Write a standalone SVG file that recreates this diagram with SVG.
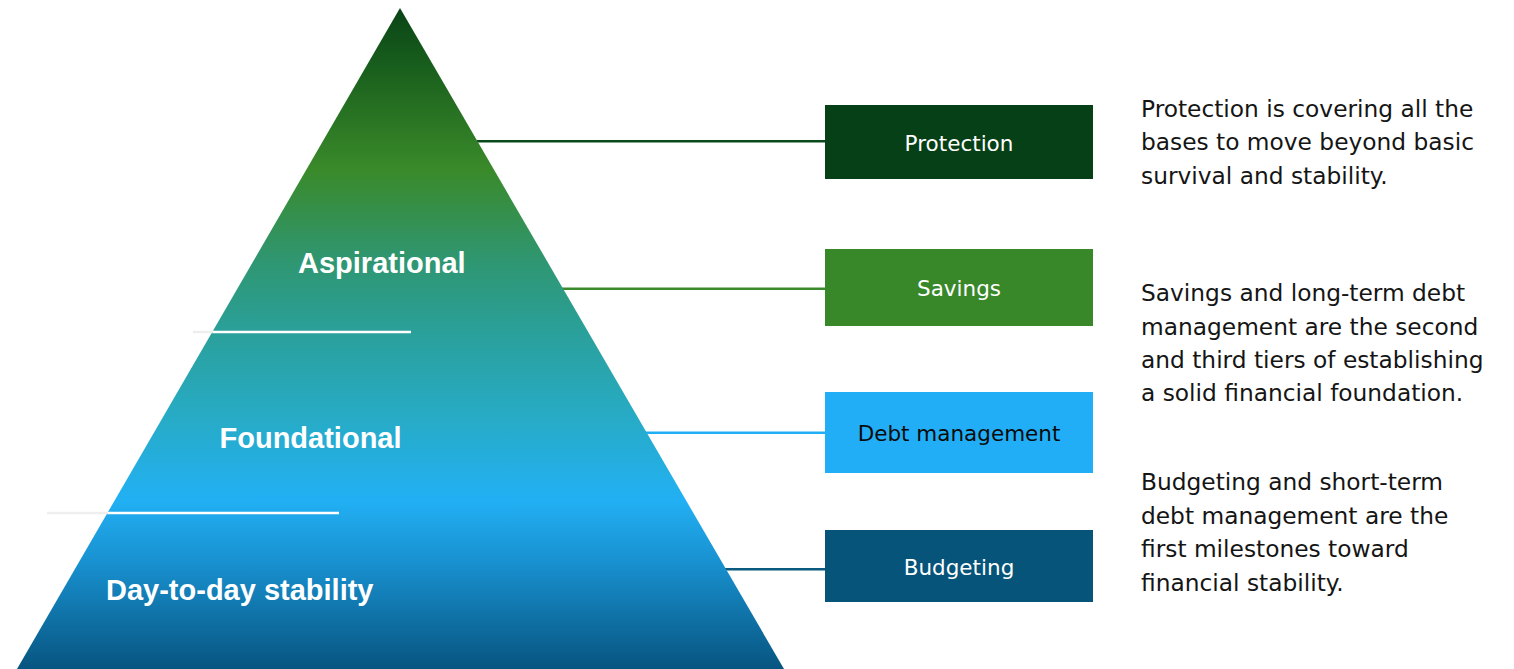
<svg xmlns="http://www.w3.org/2000/svg" width="1514" height="669" viewBox="0 0 1514 669">
  <style>
    .tier { font-family: "Liberation Sans", Arial, sans-serif; font-weight: bold; font-size: 29px; fill: #ffffff; }
    .box-label { font-family: "DejaVu Sans", "Liberation Sans", sans-serif; font-size: 21.5px; text-anchor: middle; }
    .desc { font-family: "DejaVu Sans", "Liberation Sans", sans-serif; font-size: 23.3px; fill: #151515; }
    .conn { stroke-width: 2.5; fill: none; }
    .divider { stroke-width: 2.5; }
  </style>
  <defs>
    <linearGradient id="pyramidFill" gradientUnits="userSpaceOnUse" x1="0" y1="8" x2="0" y2="669">
      <stop offset="0" stop-color="#0a4416"/>
      <stop offset="0.08" stop-color="#175c1c"/>
      <stop offset="0.245" stop-color="#3a8a2a"/>
      <stop offset="0.38" stop-color="#2f9670"/>
      <stop offset="0.49" stop-color="#2aa09a"/>
      <stop offset="0.62" stop-color="#27abc6"/>
      <stop offset="0.745" stop-color="#22b0f4"/>
      <stop offset="0.84" stop-color="#1890cf"/>
      <stop offset="1" stop-color="#075580"/>
    </linearGradient>
  </defs>

  <rect x="0" y="0" width="1514" height="669" fill="#ffffff"/>

  <!-- connectors from the pyramid edge to the boxes -->
  <g id="connectors">
    <line class="conn" x1="477" y1="141.3" x2="826" y2="141.3" stroke="#0a4a1a"/>
    <line class="conn" x1="562" y1="288.7" x2="826" y2="288.7" stroke="#3a8a2c"/>
    <line class="conn" x1="646" y1="432.7" x2="826" y2="432.7" stroke="#22aef5"/>
    <line class="conn" x1="725" y1="569.3" x2="826" y2="569.3" stroke="#0a5a80"/>
  </g>

  <!-- pyramid with tier labels and dividers -->
  <g id="pyramid">
    <polygon points="400,8 784,669 17,669" fill="url(#pyramidFill)"/>
    <line class="divider" x1="193" y1="332" x2="212.5" y2="332" stroke="#eeeeee"/>
    <line class="divider" x1="212.5" y1="332" x2="411" y2="332" stroke="#ffffff"/>
    <line class="divider" x1="47" y1="513" x2="107.5" y2="513" stroke="#eeeeee"/>
    <line class="divider" x1="107.5" y1="513" x2="339" y2="513" stroke="#ffffff"/>
  </g>
  <g id="tier-aspirational">
    <text class="tier" x="298" y="272.7">Aspirational</text>
  </g>
  <g id="tier-foundational">
    <text class="tier" x="219.5" y="447.7">Foundational</text>
  </g>
  <g id="tier-stability">
    <text class="tier" x="106" y="599.5">Day-to-day stability</text>
  </g>

  <!-- boxes -->
  <g id="protection">
    <rect x="825" y="105" width="268" height="74" fill="#064016"/>
    <text class="box-label" x="959" y="150.5" fill="#ffffff">Protection</text>
  </g>
  <g id="savings">
    <rect x="825" y="249" width="268" height="77" fill="#38882a"/>
    <text class="box-label" x="959" y="296" fill="#ffffff">Savings</text>
  </g>
  <g id="debt-management">
    <rect x="825" y="392" width="268" height="81" fill="#22aef6"/>
    <text class="box-label" x="959" y="441" fill="#0b0b0b">Debt management</text>
  </g>
  <g id="budgeting">
    <rect x="825" y="530" width="268" height="72" fill="#06547a"/>
    <text class="box-label" x="959" y="574.5" fill="#ffffff">Budgeting</text>
  </g>

  <!-- descriptions -->
  <g id="protection-note">
    <text class="desc">
      <tspan x="1141" y="116.5">Protection is covering all the</tspan>
      <tspan x="1141" y="150">bases to move beyond basic</tspan>
      <tspan x="1141" y="183.5">survival and stability.</tspan>
    </text>
  </g>
  <g id="savings-note">
    <text class="desc">
      <tspan x="1141" y="301">Savings and long-term debt</tspan>
      <tspan x="1141" y="334.5">management are the second</tspan>
      <tspan x="1141" y="367.5">and third tiers of establishing</tspan>
      <tspan x="1141" y="401">a solid financial foundation.</tspan>
    </text>
  </g>
  <g id="budgeting-note">
    <text class="desc">
      <tspan x="1141" y="489.5">Budgeting and short-term</tspan>
      <tspan x="1141" y="523.5">debt management are the</tspan>
      <tspan x="1141" y="557">first milestones toward</tspan>
      <tspan x="1141" y="590.5">financial stability.</tspan>
    </text>
  </g>
</svg>
